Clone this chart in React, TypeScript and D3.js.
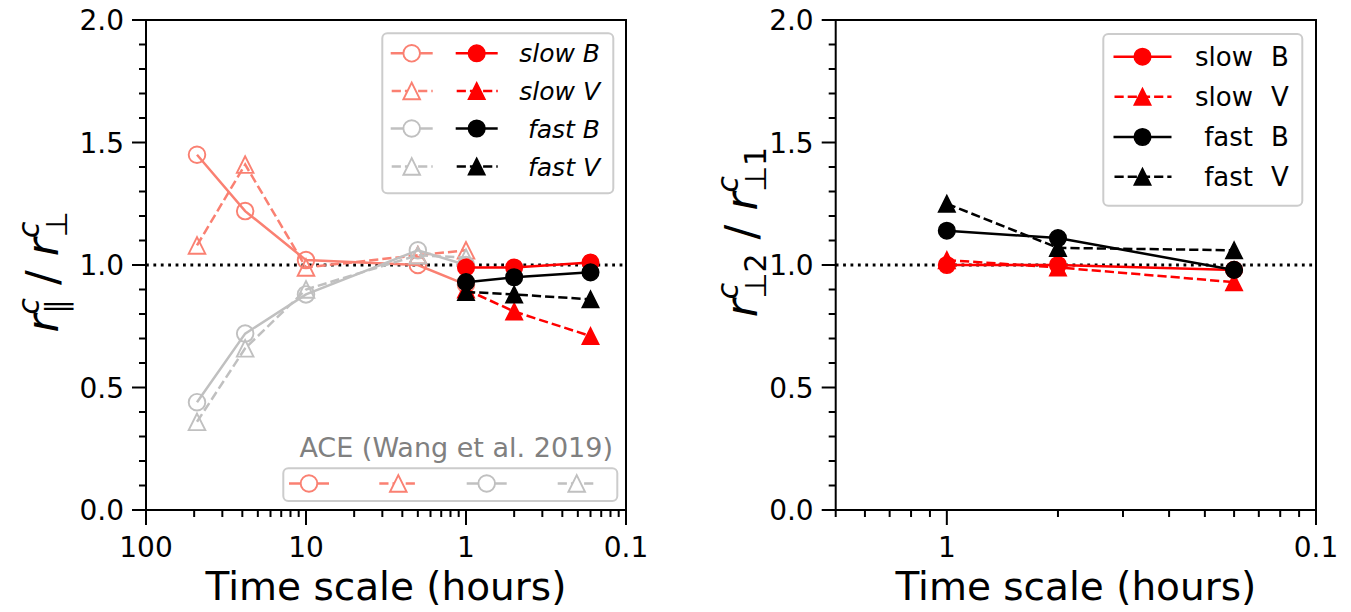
import React from 'react';
import * as d3 from 'd3';

// ---------- data ----------
const aceHours = [48, 24, 10, 2, 1];
const aceSlowB = [1.45, 1.22, 1.02, 1.0, 0.92];
const aceSlowV = [1.08, 1.41, 0.99, 1.04, 1.06];
const aceFastB = [0.44, 0.72, 0.88, 1.06, 1.0];
const aceFastV = [0.36, 0.66, 0.9, 1.04, 1.03];

const hours = [1, 0.5, 0.1667];
const parSlowB = [0.99, 0.99, 1.01];
const parSlowV = [0.9, 0.81, 0.71];
const parFastB = [0.93, 0.95, 0.97];
const parFastV = [0.89, 0.88, 0.86];

const perpSlowB = [1.0, 1.0, 0.98];
const perpSlowV = [1.02, 0.99, 0.93];
const perpFastB = [1.14, 1.11, 0.98];
const perpFastV = [1.25, 1.07, 1.06];

const leftXTickLabels = ['100', '10', '1', '0.1'];
const leftXTickHours = [100, 10, 1, 0.1];
const rightXTickLabels = ['1', '0.1'];
const rightXTickHours = [1, 0.1];
const yTickValues = [0, 0.5, 1.0, 1.5, 2.0];
const legendLabels = ['slow B', 'slow V', 'fast B', 'fast V'];
const legendWords = ['slow', 'slow', 'fast', 'fast'];
const legendVars = ['B', 'V', 'B', 'V'];
const aceTitle = 'ACE (Wang et al. 2019)';

// ---------- style ----------
const SALMON = '#fa8072';
const SILVER = '#c0c0c0';
const RED = '#ff0000';
const BLACK = '#000000';
const FONT = "'DejaVu Sans', sans-serif";
const LW = 2.5;
const DASH = '9.2,4';
const MS = 8.3;

const TOP = 20;
const BOTTOM = 510;
const yScale = d3.scaleLinear().domain([0, 2]).range([BOTTOM, TOP]);

const leftX = d3.scaleLog().domain([1 / 100, 1 / 0.1]).range([146, 626]);
const rightX = d3.scaleLog().domain([1 / 2, 1 / 0.1]).range([835.7, 1316]);

type Marker = 'o' | '^';

function markerPath(m: Marker, x: number, y: number, s: number) {
  if (m === 'o') {
    return `M${x - s},${y}A${s},${s} 0 1,0 ${x + s},${y}A${s},${s} 0 1,0 ${x - s},${y}Z`;
  }
  return `M${x},${y - s}L${x - s},${y + s}L${x + s},${y + s}Z`;
}

function Series({ xs, hrs, vals, color, dashed, marker, open }: any) {
  const pts = hrs.map((h: number, i: number) => [xs(1 / h), yScale(vals[i])] as [number, number]);
  const line = d3.line()(pts) || '';
  return (
    <g>
      <path d={line} fill="none" stroke={color} strokeWidth={LW} strokeDasharray={dashed ? DASH : undefined} />
      {pts.map((p: [number, number], i: number) => (
        <path
          key={i}
          d={markerPath(marker, p[0], p[1], MS)}
          fill={open ? 'none' : color}
          stroke={color}
          strokeWidth={open ? 1.9 : 1.5}
        />
      ))}
    </g>
  );
}

function Handle({ cx, cy, half, color, dashed, marker, open }: any) {
  return (
    <g>
      <line x1={cx - half} x2={cx + half} y1={cy} y2={cy} stroke={color} strokeWidth={LW}
        strokeDasharray={dashed ? DASH : undefined} strokeDashoffset={dashed ? -1 : 0} />
      <path d={markerPath(marker, cx, cy, MS)} fill={open ? 'white' : color} stroke={color}
        strokeWidth={open ? 1.9 : 1.5} />
    </g>
  );
}

function Axes({ xs, xTickHours, xTickLabels, left, right }: any) {
  const [d0, d1] = xs.domain();
  const minors: number[] = [];
  for (let e = -3; e <= 2; e++) {
    for (let k = 2; k <= 9; k++) {
      const v = k * Math.pow(10, e);
      if (v >= d0 - 1e-9 && v <= d1 + 1e-9) minors.push(v);
    }
  }
  const yMinors: number[] = [];
  for (let i = 1; i < 20; i++) if (i % 5 !== 0) yMinors.push(i / 10);
  return (
    <g>
      {minors.map((v, i) => (
        <line key={'xm' + i} x1={xs(v)} x2={xs(v)} y1={BOTTOM} y2={BOTTOM + 7} stroke={BLACK} strokeWidth={2} />
      ))}
      {xTickHours.map((h: number, i: number) => (
        <g key={'xM' + i}>
          <line x1={xs(1 / h)} x2={xs(1 / h)} y1={BOTTOM} y2={BOTTOM + 15} stroke={BLACK} strokeWidth={2} />
          <text x={xs(1 / h)} y={556.5} textAnchor="middle" fontSize={28} fontFamily={FONT}>{xTickLabels[i]}</text>
        </g>
      ))}
      {yMinors.map((v, i) => (
        <line key={'ym' + i} x1={left - 7} x2={left} y1={yScale(v)} y2={yScale(v)} stroke={BLACK} strokeWidth={2} />
      ))}
      {yTickValues.map((v, i) => (
        <g key={'yM' + i}>
          <line x1={left - 14} x2={left} y1={yScale(v)} y2={yScale(v)} stroke={BLACK} strokeWidth={2} />
          <text x={left - 22} y={yScale(v)} dy="0.36em" textAnchor="end" fontSize={28} fontFamily={FONT}>
            {d3.format('.1f')(v)}
          </text>
        </g>
      ))}
      <text x={(left + right) / 2} y={600} textAnchor="middle" fontSize={39} fontFamily={FONT}>Time scale (hours)</text>
    </g>
  );
}

function Frame({ left, right }: any) {
  return <rect x={left} y={TOP} width={right - left} height={BOTTOM - TOP} fill="none" stroke={BLACK} strokeWidth={2} />;
}

function RefLine({ left, right }: any) {
  return <line x1={left} x2={right} y1={yScale(1)} y2={yScale(1)} stroke={BLACK} strokeWidth={2.8} strokeDasharray="2.8,4.6" />;
}

export default function App() {
  const leftSeries = [
    { vals: parSlowB, color: RED, dashed: false, marker: 'o' },
    { vals: parSlowV, color: RED, dashed: true, marker: '^' },
    { vals: parFastB, color: BLACK, dashed: false, marker: 'o' },
    { vals: parFastV, color: BLACK, dashed: true, marker: '^' },
  ];
  const aceSeries = [
    { vals: aceSlowB, color: SALMON, dashed: false, marker: 'o' },
    { vals: aceSlowV, color: SALMON, dashed: true, marker: '^' },
    { vals: aceFastB, color: SILVER, dashed: false, marker: 'o' },
    { vals: aceFastV, color: SILVER, dashed: true, marker: '^' },
  ];
  const rightSeries = [
    { vals: perpSlowB, color: RED, dashed: false, marker: 'o' },
    { vals: perpSlowV, color: RED, dashed: true, marker: '^' },
    { vals: perpFastB, color: BLACK, dashed: false, marker: 'o' },
    { vals: perpFastV, color: BLACK, dashed: true, marker: '^' },
  ];
  const leftRows = [53.3, 91, 128.5, 166.5];
  const rightRows = [56.7, 96.7, 137, 176.7];
  const aceCols = [309, 398.3, 486.7, 576.7];

  return (
    <svg width={1351} height={612} style={{ position: 'absolute', left: 0, top: 0, background: 'white' }}
      fontFamily={FONT}>
      <rect x={0} y={0} width={1351} height={612} fill="white" />

      {/* ---------- left panel ---------- */}
      <RefLine left={146} right={626} />
      {aceSeries.map((s, i) => (
        <Series key={'a' + i} xs={leftX} hrs={aceHours} vals={s.vals} color={s.color} dashed={s.dashed} marker={s.marker} open />
      ))}
      {leftSeries.map((s, i) => (
        <Series key={'l' + i} xs={leftX} hrs={hours} vals={s.vals} color={s.color} dashed={s.dashed} marker={s.marker} />
      ))}
      <Axes xs={leftX} xTickHours={leftXTickHours} xTickLabels={leftXTickLabels} left={146} right={626} />
      <Frame left={146} right={626} />

      {/* left legend */}
      <rect x={382.3} y={33.3} width={231} height={160} rx={5} fill="white" fillOpacity={0.8} stroke="#cccccc" strokeWidth={2} />
      {leftRows.map((y, i) => (
        <g key={'lr' + i}>
          <Handle cx={411.7} cy={y} half={21} color={aceSeries[i].color} dashed={aceSeries[i].dashed} marker={aceSeries[i].marker} open />
          <Handle cx={476.7} cy={y} half={21} color={leftSeries[i].color} dashed={leftSeries[i].dashed} marker={leftSeries[i].marker} />
          <text x={600} y={y} dy="0.36em" textAnchor="end" fontSize={25} fontStyle="italic">{legendLabels[i]}</text>
        </g>
      ))}

      {/* ACE legend */}
      <text x={613} y={456.7} textAnchor="end" fontSize={27} fill="#808080">{aceTitle}</text>
      <rect x={283.3} y={468.3} width={334} height={32.7} rx={5} fill="white" fillOpacity={0.8} stroke="#cccccc" strokeWidth={2} />
      {aceCols.map((x, i) => (
        <Handle key={'ac' + i} cx={x} cy={483.5} half={20} color={aceSeries[i].color} dashed={aceSeries[i].dashed} marker={aceSeries[i].marker} open />
      ))}

      {/* left y label */}
      <g transform="translate(58,272) rotate(-90)">
        <text textAnchor="middle" fontSize={44} style={{ whiteSpace: 'pre' }}>
          <tspan fontStyle="italic">r</tspan>
          <tspan fontStyle="italic" fontSize={30} dy={-19}>c</tspan>
          <tspan fontSize={30} dx={-16} dy={28}>∥</tspan>
          <tspan dy={-9}>{' / '}</tspan>
          <tspan fontStyle="italic">r</tspan>
          <tspan fontStyle="italic" fontSize={30} dy={-19}>c</tspan>
          <tspan fontSize={30} dx={-16} dy={28}>⊥</tspan>
        </text>
      </g>

      {/* ---------- right panel ---------- */}
      <RefLine left={835.7} right={1316} />
      {rightSeries.map((s, i) => (
        <Series key={'r' + i} xs={rightX} hrs={hours} vals={s.vals} color={s.color} dashed={s.dashed} marker={s.marker} />
      ))}
      <Axes xs={rightX} xTickHours={rightXTickHours} xTickLabels={rightXTickLabels} left={835.7} right={1316} />
      <Frame left={835.7} right={1316} />

      {/* right legend */}
      <rect x={1103.3} y={34} width={199} height={171.7} rx={5} fill="white" fillOpacity={0.8} stroke="#cccccc" strokeWidth={2} />
      {rightRows.map((y, i) => (
        <g key={'rr' + i}>
          <Handle cx={1142.5} cy={y} half={29} color={rightSeries[i].color} dashed={rightSeries[i].dashed} marker={rightSeries[i].marker} />
          <text x={1253} y={y} dy="0.36em" textAnchor="end" fontSize={26}>{legendWords[i]}</text>
          <text x={1271} y={y} dy="0.36em" textAnchor="start" fontSize={26}>{legendVars[i]}</text>
        </g>
      ))}

      {/* right y label */}
      <g transform="translate(757,232) rotate(-90)">
        <text textAnchor="middle" fontSize={44} style={{ whiteSpace: 'pre' }}>
          <tspan fontStyle="italic">r</tspan>
          <tspan fontStyle="italic" fontSize={30} dy={-19}>c</tspan>
          <tspan fontSize={30} dx={-16} dy={28}>⊥2</tspan>
          <tspan dy={-9}>{' / '}</tspan>
          <tspan fontStyle="italic">r</tspan>
          <tspan fontStyle="italic" fontSize={30} dy={-19}>c</tspan>
          <tspan fontSize={30} dx={-16} dy={28}>⊥1</tspan>
        </text>
      </g>
    </svg>
  );
}
